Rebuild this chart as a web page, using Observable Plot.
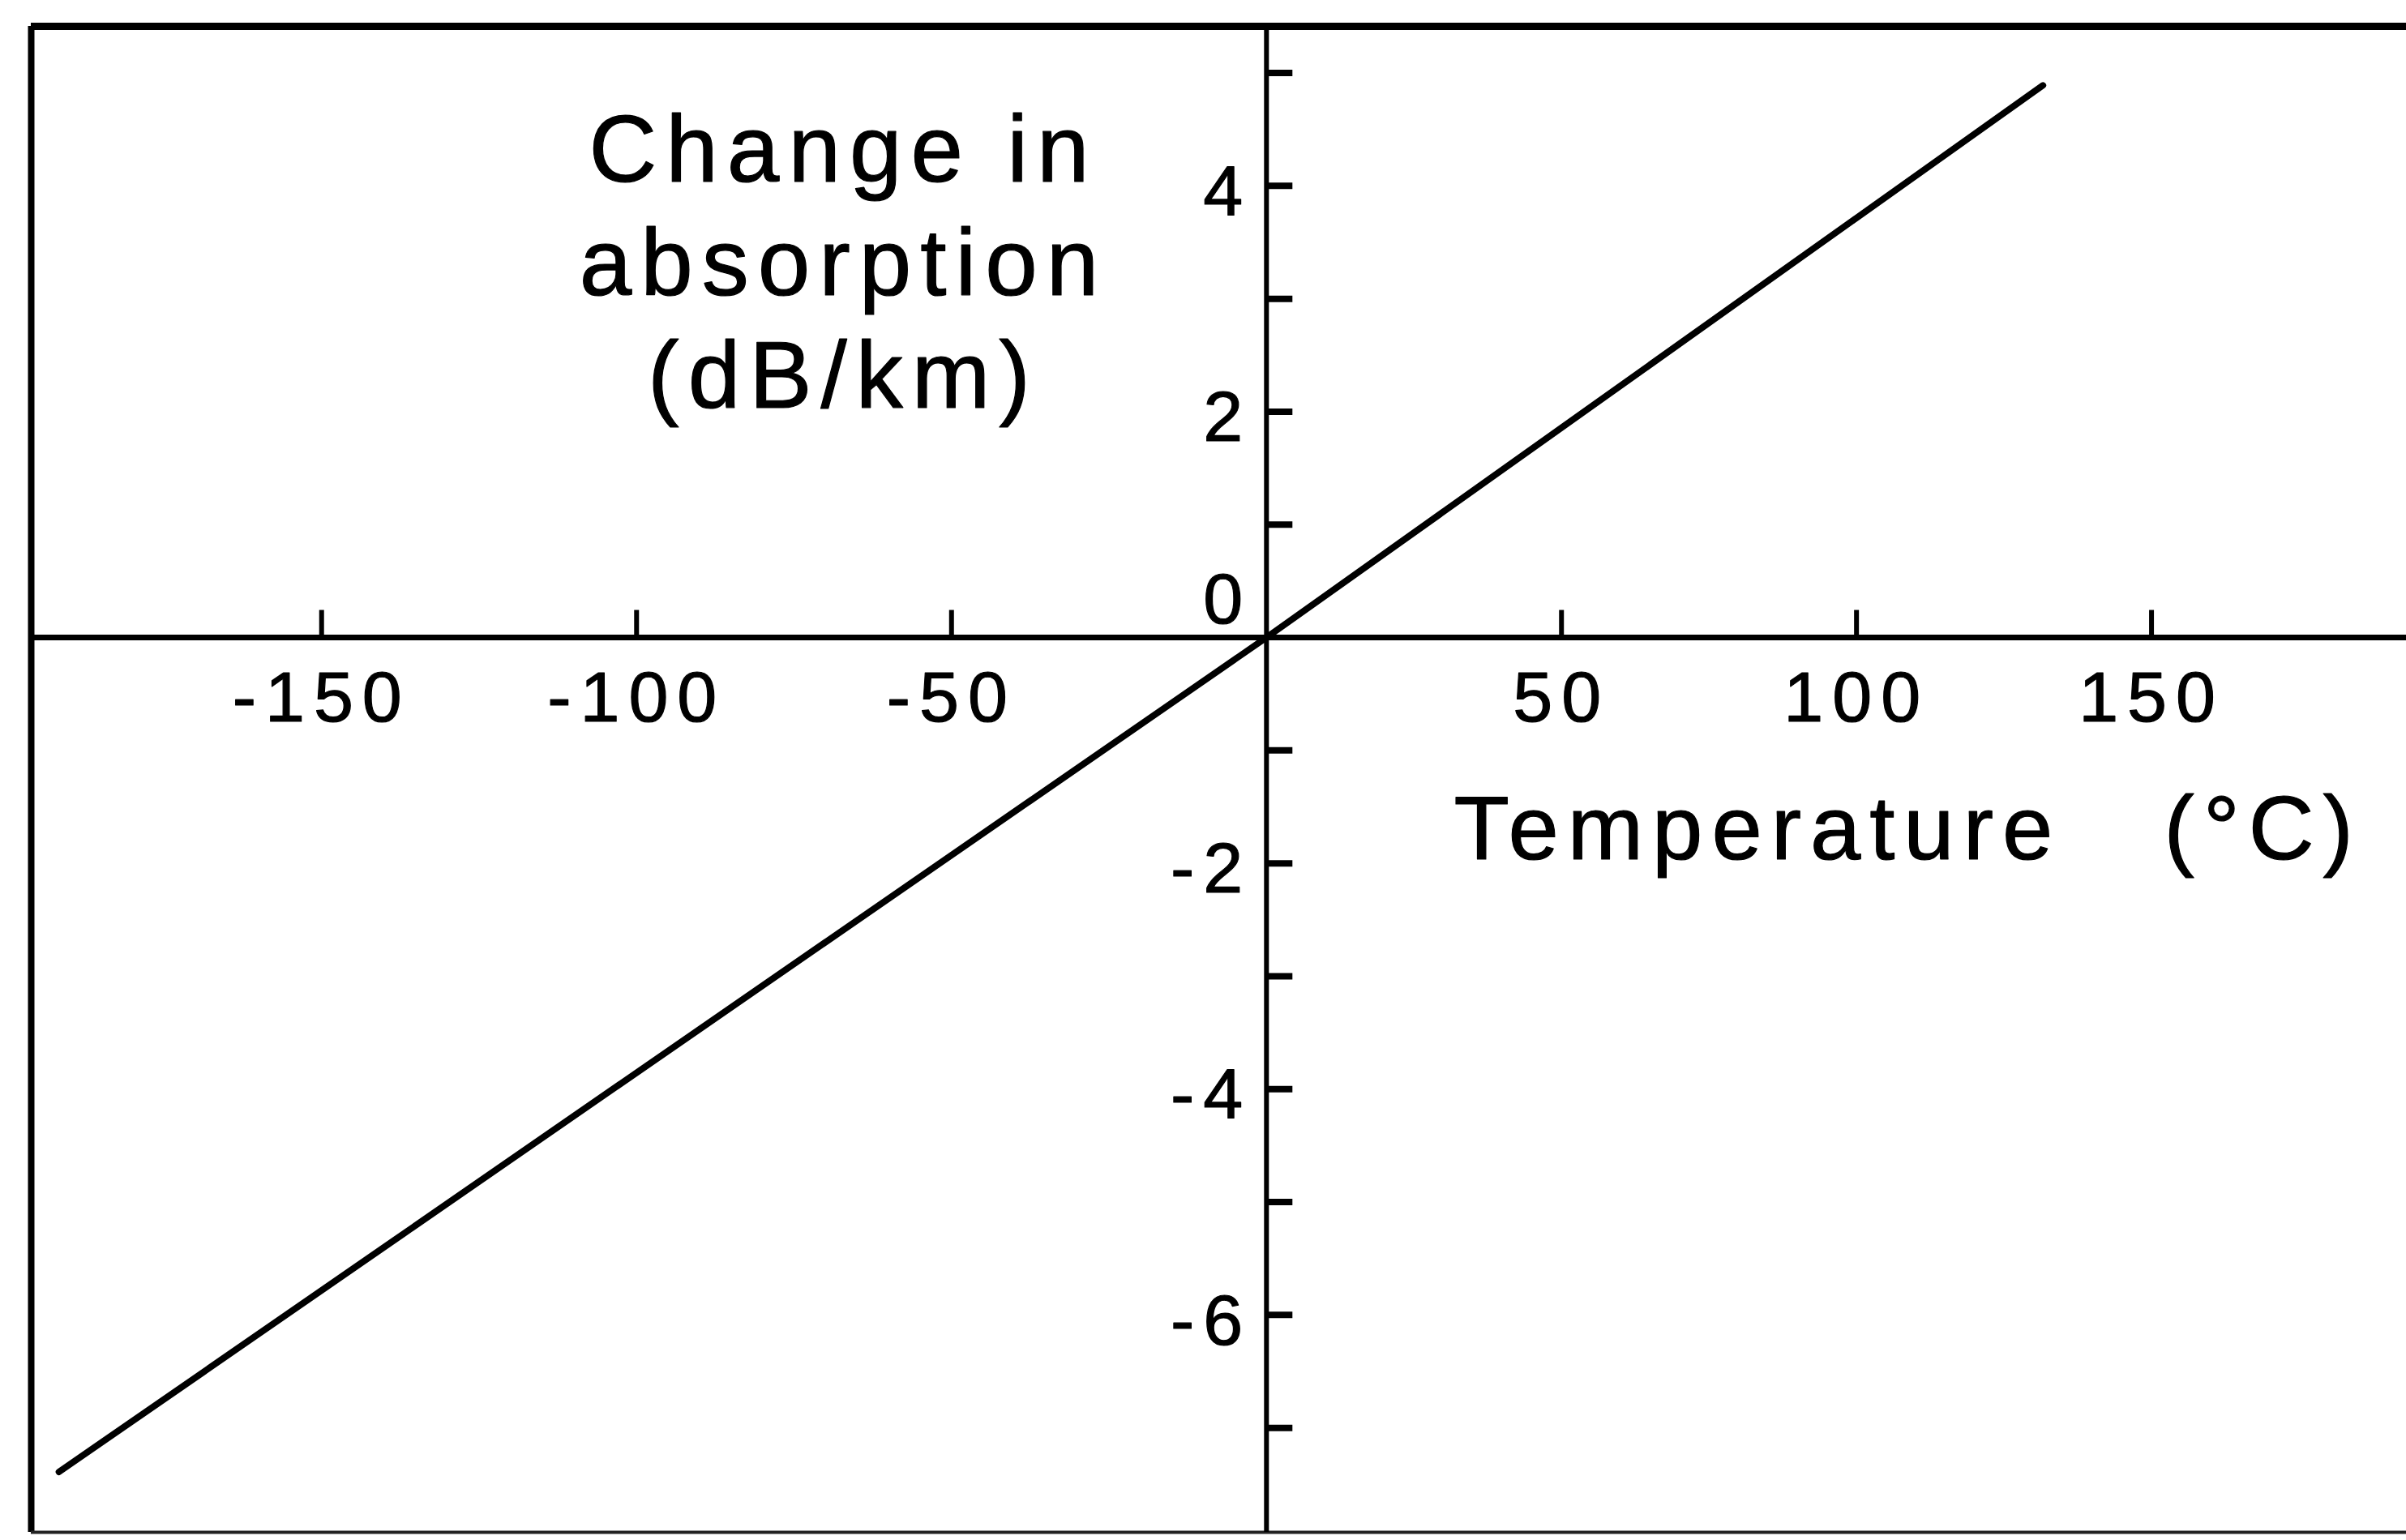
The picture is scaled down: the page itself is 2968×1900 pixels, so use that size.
<!DOCTYPE html>
<html><head><meta charset="utf-8">
<script src="https://cdn.jsdelivr.net/npm/d3@7"></script>
<script src="https://cdn.jsdelivr.net/npm/@observablehq/plot@0.6"></script>
<style>
html,body{margin:0;padding:0;background:#fff;}
#chart svg{display:block;}
</style></head><body><div id="chart"></div>
<script>
// ---- data ----
const temperature = [-191.7, 0, 131.6];          // °C
const absorptionChange = [-7.39, 0, 4.89];       // dB/km
const xTickValues = [-150, -100, -50, 50, 100, 150];
const xTickLabels = ["-150", "-100", "-50", "50", "100", "150"];
const yTickValues = [-7, -6, -5, -4, -3, -2, -1, 1, 2, 3, 4, 5];
const yLabelValues = [-6, -4, -2, 2, 4];
const yLabelTexts = ["-6", "-4", "-2", "2", "4"];
const zeroLabel = ["0"];
const yTitle = "Change in\nabsorption\n(dB/km)";
const xTitle = "Temperature\u00a0\u00a0\u00a0(°C)";
const xDomain = [-196.1, 193.2];   // °C at the left frame and right edge
const yDomain = [-7.925, 5.413];
// the hand-drawn temperature axis is graduated a little more widely left of 0 than right of it
const xStretchNeg = 1.0327, xStretchPos = 0.9673;

// ---- build ----
const lineData = temperature.map((t, i) => ({t, v: absorptionChange[i]}));
const xT = d => d < 0 ? d * xStretchNeg : d * xStretchPos;
const tickUp = {draw(ctx, size) { const L = Math.sqrt(size / Math.PI); ctx.moveTo(0, 0); ctx.lineTo(0, -L); }};
const tickRight = {draw(ctx, size) { const L = Math.sqrt(size / Math.PI); ctx.moveTo(0, 0); ctx.lineTo(L, 0); }};
const W = 2968, H = 1900;
const font = "'Liberation Sans', Arial, Helvetica, sans-serif";
const ink = {fill: "#000", stroke: "#000", strokeWidth: 1.2};

const chart = Plot.plot({
  width: W, height: H,
  marginLeft: 38, marginTop: 32, marginRight: 0, marginBottom: 10,
  style: {fontFamily: font, letterSpacing: "11px", background: "#fff", color: "#000"},
  x: {domain: xDomain.map(xT), transform: xT, axis: null},
  y: {domain: yDomain, axis: null},
  marks: [
    Plot.ruleY([yDomain[1]], {stroke: "#000", strokeWidth: 9}),
    Plot.ruleX([xDomain[0]], {stroke: "#000", strokeWidth: 8}),
    Plot.ruleY([yDomain[0]], {stroke: "#222", strokeWidth: 4}),
    Plot.ruleY([0], {stroke: "#000", strokeWidth: 7}),
    Plot.ruleX([0], {stroke: "#000", strokeWidth: 6}),
    Plot.dot(xTickValues, {x: d => d, y: () => 0, symbol: tickUp, r: 34, fill: "none", stroke: "#000", strokeWidth: 6}),
    Plot.dot(yTickValues, {x: () => 0, y: d => d, symbol: tickRight, r: 32, fill: "none", stroke: "#000", strokeWidth: 8}),
    Plot.line(lineData, {x: "t", y: "v", stroke: "#000", strokeWidth: 8, strokeLinecap: "round"}),
    Plot.text(xTickValues, {x: d => d, y: () => 0, text: (d, i) => xTickLabels[i], dy: 75, fontSize: 88, textAnchor: "middle", ...ink}),
    Plot.text(yLabelValues, {x: () => 0, y: d => d, text: (d, i) => yLabelTexts[i], dx: -18, dy: 8, fontSize: 88, textAnchor: "end", ...ink}),
    Plot.text(zeroLabel, {x: () => 0, y: () => 0, text: d => d, dx: -18, dy: -46, fontSize: 88, textAnchor: "end", ...ink}),
    Plot.text([yTitle], {frameAnchor: "top-left", dx: 1002, dy: 93, lineAnchor: "top", textAnchor: "middle", fontSize: 116, lineHeight: 1.2, ...ink}),
    Plot.text([xTitle], {frameAnchor: "top-left", dx: 1755, dy: 948, lineAnchor: "top", textAnchor: "start", fontSize: 112, ...ink, style: "letter-spacing:15px"})
  ]
});
document.getElementById("chart").appendChild(chart);
</script>
</body></html>
